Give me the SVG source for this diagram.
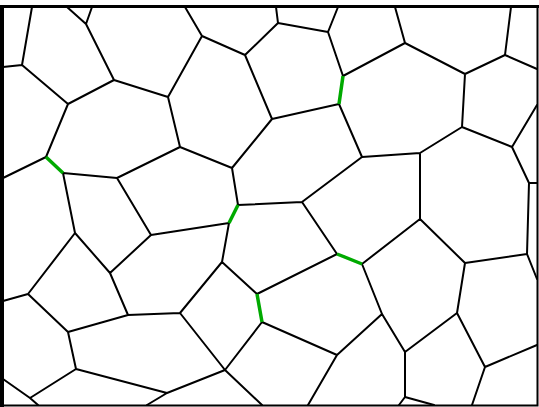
<svg xmlns="http://www.w3.org/2000/svg" width="539" height="407" viewBox="0 0 539 407">
<style>
.e{stroke:#000;stroke-width:2;fill:none;stroke-linecap:round;stroke-linejoin:round}
.g{stroke:#00aa00;stroke-width:3.5;fill:none;stroke-linecap:butt}
</style>
<rect width="539" height="407" fill="#fff"/>
<g id="edges">
<path class="e" d="M32,7L22,65L3,67M22,65L68,104L114,80L86,24L67,7M86,24L92,7M114,80L168,97L202,36L185,7M202,36L245,55L278,23L276,7M278,23L328,32L338,7M328,32L343,76L405,43L395,7M405,43L465,74L505,55L511,7M505,55L537,69M465,74L462,127L420,153L362,157L339,104L272,119L245,55M272,119L232,168L180,147L168,97M462,127L512,147L537,105M512,147L529,183L537,183M529,183L527,254L537,279M527,254L465,263L420,219L420,153M420,219L362,264L382,314L405,352L457,313L465,263M457,313L485,367L537,345M485,367L472,405M405,352L405,397L399,405M405,397L434,405M382,314L337,355L308,405M337,355L262,322L225,370L262,405M225,370L180,313L128,315L110,273L151,235L117,178L180,147M117,178L63,173L75,233L110,273M75,233L28,294L3,301M28,294L68,332L128,315M68,332L76,369L30,398L3,379M30,398L38,405M76,369L167,393L147,405M167,393L225,370M180,313L222,262L257,294L337,254L302,202L362,157M302,202L238,205L232,168M229,223L151,235M229,223L222,262M46,157L68,104M46,157L3,178"/>
<path class="g" d="M343,76L339,104M46,157L63,173M238,205L229,223M337,254L362,264M257,294L262,322"/>
</g>
<g id="frame" fill="none">
<path d="M537.5,6.5V405.5H2" stroke="#000" stroke-width="2"/>
<path d="M0,6.5H539" stroke="#000" stroke-width="3"/>
<path d="M2,5V407" stroke="#000" stroke-width="4"/>
</g>
</svg>
